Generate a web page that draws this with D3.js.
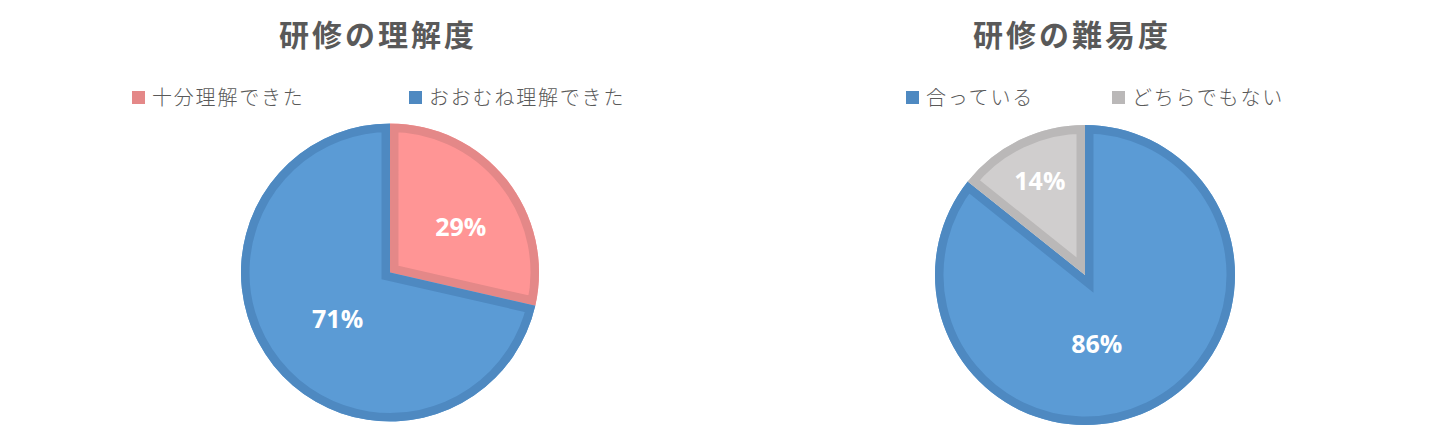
<!DOCTYPE html>
<html>
<head>
<meta charset="utf-8">
<script src="https://cdn.jsdelivr.net/npm/d3@7"></script>
<style>
  body { margin: 0; background: #fff; }
  svg { display: block; }
</style>
</head>
<body>
<script>
// chart data
const titles = ["研修の理解度", "研修の難易度"];
const understandLabels = ["十分理解できた", "おおむね理解できた"];
const understandValues = [2, 5];
const difficultyLabels = ["合っている", "どちらでもない"];
const difficultyValues = [6, 1];

const W = 1449, H = 445;
const svg = d3.select("body").append("svg")
    .attr("width", W)
    .attr("height", H);

const defs = svg.append("defs");
const JP = "'Noto Sans CJK JP', 'Noto Sans', sans-serif";

// layout for each of the two pies
const charts = [
    {
        title: titles[0], labels: understandLabels, values: understandValues,
        fills: ["#FF9595", "#5B9BD5"], strokes: ["#E48888", "#4E89C1"],
        cx: 390, cy: 272.5, r: 149,
        titleX: 378,
        legendX: [132, 409],
        // label position: [angle offset (deg), distance]
        labelPos: [[6, 84], [-3, 70]]
    },
    {
        title: titles[1], labels: difficultyLabels, values: difficultyValues,
        fills: ["#5B9BD5", "#D0CECE"], strokes: ["#4E89C1", "#BAB8B8"],
        cx: 1085, cy: 275, r: 150,
        titleX: 1072,
        legendX: [906, 1112],
        labelPos: [[16, 70], [0, 104]]
    }
];

const borderW = 8.5;

charts.forEach((c, ci) => {
    const g = svg.append("g");

    // title
    g.append("text")
        .attr("x", c.titleX)
        .attr("y", 46)
        .attr("text-anchor", "middle")
        .attr("font-family", JP)
        .attr("font-weight", "bold")
        .attr("font-size", 30)
        .attr("letter-spacing", 3)
        .attr("fill", "#595959")
        .text(c.title);

    // legend
    c.labels.forEach((lab, i) => {
        const lg = g.append("g").attr("transform", `translate(${c.legendX[i]},90)`);
        lg.append("rect")
            .attr("width", 13).attr("height", 13)
            .attr("y", 1)
            .attr("fill", c.strokes[i]);
        lg.append("text")
            .attr("x", 20)
            .attr("y", 15)
            .attr("font-family", JP)
            .attr("font-weight", 300)
            .attr("font-size", 20)
            .attr("letter-spacing", 1.8)
            .attr("fill", "#595959")
            .text(lab);
    });

    // pie
    const total = d3.sum(c.values);
    const pie = d3.pie().sort(null).value(d => d.v);
    const slices = pie(c.values.map((v, i) => ({ v: v, i: i })));
    const arc = d3.arc().innerRadius(0).outerRadius(c.r);

    const pg = g.append("g").attr("transform", `translate(${c.cx},${c.cy})`);
    slices.forEach((s, k) => {
        const id = `clip-${ci}-${k}`;
        defs.append("clipPath").attr("id", id)
            .append("path")
            .attr("d", arc(s));
        pg.append("path")
            .attr("d", arc(s))
            .attr("fill", c.fills[s.data.i]);
        // inset border: double-width stroke clipped to its own slice
        pg.append("path")
            .attr("d", arc(s))
            .attr("fill", "none")
            .attr("stroke", c.strokes[s.data.i])
            .attr("stroke-width", borderW * 2)
            .attr("stroke-linejoin", "miter")
            .attr("clip-path", `url(#${id})`);
    });

    // percentage labels
    slices.forEach(s => {
        const lp = c.labelPos[s.data.i];
        const mid = (s.startAngle + s.endAngle) / 2 + lp[0] * Math.PI / 180;
        const x = c.cx + lp[1] * Math.sin(mid);
        const y = c.cy - lp[1] * Math.cos(mid);
        g.append("text")
            .attr("x", x)
            .attr("y", y)
            .attr("dy", "0.36em")
            .attr("text-anchor", "middle")
            .attr("font-family", "'Open Sans', sans-serif")
            .attr("font-weight", "bold")
            .attr("font-size", 25)
            .attr("fill", "#fff")
            .text(d3.format(".0%")(s.data.v / total));
    });
});
</script>
</body>
</html>
